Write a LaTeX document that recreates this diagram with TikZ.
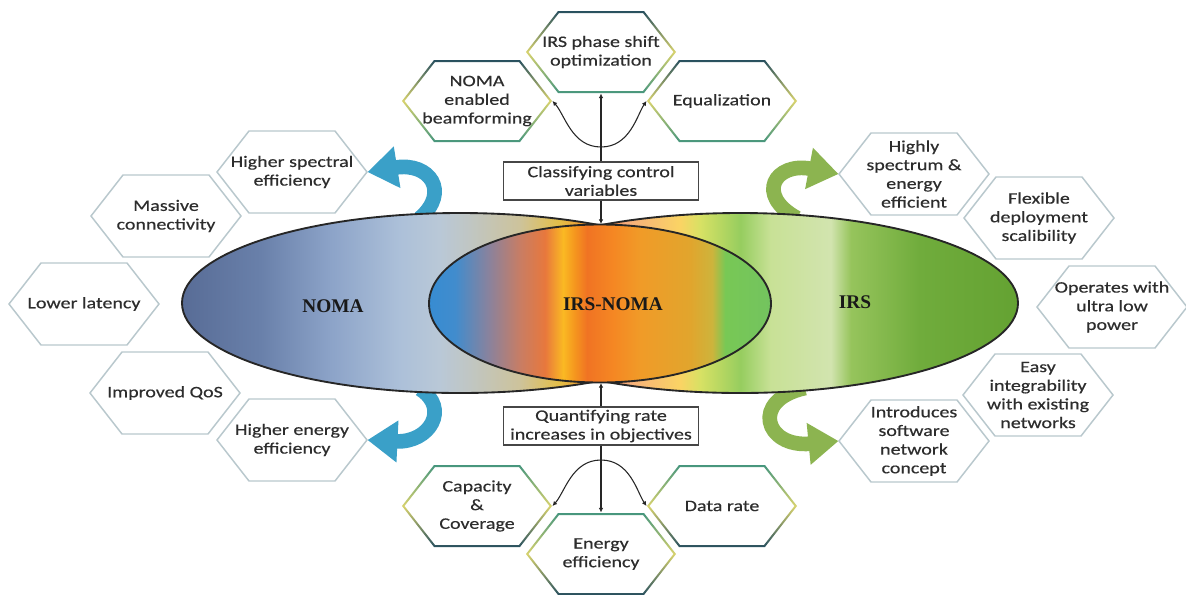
\documentclass[tikz,border=0pt]{standalone}
\usepackage{fontspec}
\setmainfont{Carlito}[FakeStretch=1.25,FakeBold=0.4]
\newfontfamily\labfont{Liberation Serif}
\usetikzlibrary{arrows.meta}

\definecolor{txtgray}{RGB}{45,45,45}
\definecolor{hexgray}{RGB}{185,200,205}
\definecolor{boxgray}{RGB}{70,70,70}
\definecolor{ringdark}{RGB}{40,80,95}
\definecolor{ringyellow}{RGB}{215,210,110}
\definecolor{ringgreen}{RGB}{70,150,125}
\definecolor{arrowblue}{RGB}{58,160,200}
\definecolor{arrowgreen}{RGB}{140,180,80}

\definecolor{o1}{RGB}{88,108,150}
\definecolor{o2}{RGB}{105,128,170}
\definecolor{o3}{RGB}{140,163,200}
\definecolor{o4}{RGB}{172,192,217}
\definecolor{o5}{RGB}{185,200,215}
\definecolor{o6}{RGB}{192,198,195}
\definecolor{o7}{RGB}{205,195,155}
\definecolor{o8}{RGB}{228,190,70}
\definecolor{o9}{RGB}{238,140,45}
\definecolor{o10}{RGB}{242,120,40}
\definecolor{o11}{RGB}{246,172,125}
\definecolor{o12}{RGB}{250,212,100}
\definecolor{o13}{RGB}{215,225,100}
\definecolor{o14}{RGB}{150,205,95}
\definecolor{o15}{RGB}{200,225,150}
\definecolor{o16}{RGB}{210,228,175}
\definecolor{o17}{RGB}{150,196,92}
\definecolor{o18}{RGB}{112,172,60}
\definecolor{o19}{RGB}{100,162,50}

\definecolor{i1}{RGB}{55,140,210}
\definecolor{i2}{RGB}{65,140,205}
\definecolor{i3}{RGB}{140,130,155}
\definecolor{i4}{RGB}{200,125,100}
\definecolor{i5}{RGB}{232,120,60}
\definecolor{i6}{RGB}{250,185,35}
\definecolor{i7}{RGB}{245,150,30}
\definecolor{i8}{RGB}{240,115,35}
\definecolor{i9}{RGB}{245,135,35}
\definecolor{i10}{RGB}{240,155,40}
\definecolor{i11}{RGB}{225,165,45}
\definecolor{i12}{RGB}{205,180,60}
\definecolor{i13}{RGB}{120,200,85}
\definecolor{i14}{RGB}{115,195,95}

\pgfdeclarehorizontalshading{outerfill}{100bp}{color(0bp)=(o1); color(25bp)=(o1); color(29.7bp)=(o2); color(33.9bp)=(o3); color(38bp)=(o4); color(40.4bp)=(o5); color(42.2bp)=(o6); color(45.2bp)=(o7); color(47.6bp)=(o8); color(49.4bp)=(o9); color(50.3bp)=(o10); color(51.5bp)=(o11); color(54.8bp)=(o12); color(56bp)=(o13); color(58.4bp)=(o14); color(60.2bp)=(o15); color(63.8bp)=(o16); color(65bp)=(o17); color(69.1bp)=(o18); color(75bp)=(o19); color(100bp)=(o19)}
\pgfdeclarehorizontalshading{innerfill}{100bp}{color(0bp)=(i1); color(25bp)=(i1); color(28.8bp)=(i2); color(33.9bp)=(i3); color(38.3bp)=(i4); color(42bp)=(i5); color(44.6bp)=(i6); color(46.3bp)=(i7); color(48.1bp)=(i8); color(51.9bp)=(i9); color(55.9bp)=(i10); color(63.2bp)=(i11); color(66.4bp)=(i12); color(68.3bp)=(i13); color(75bp)=(i14); color(100bp)=(i14)}

\newcommand\hexfont{\fontsize{12}{14}\selectfont}

\tikzset{every picture/.style={line width=0.75pt}}
\tikzset{
  hexout/.style={insert path={++(-75,0) -- ++(32,-41) -- ++(86,0) -- ++(32,41) -- ++(-32,41) -- ++(-86,0) -- cycle}},
  hexin/.style={insert path={++(-72.5,0) -- ++(30.5,-39) -- ++(84,0) -- ++(30.5,39) -- ++(-30.5,39) -- ++(-84,0) -- cycle}},
  hexnode/.style={minimum width=112.5pt, minimum height=61.5pt, inner sep=0pt, align=center, text=txtgray, font=\hexfont},
  hexline/.style={draw=hexgray, line width=1.1pt},
  ringtop/.style={top color=ringdark, bottom color=ringgreen, middle color=ringyellow},
  ringbot/.style={top color=ringgreen, bottom color=ringdark, middle color=ringyellow},
  stepbox/.style={draw=boxgray, line width=1pt, minimum width=146pt, minimum height=28.5pt, inner sep=2pt, align=center, text=txtgray, font=\hexfont},
  conn/.style={draw=black!85, line width=0.8pt, -{Latex[length=3.5pt,width=3.5pt]}},
  bigarrow/.style={line width=11pt, -{Triangle[width=30pt,length=22.5pt]}},
  biglabel/.style={font={\labfont\bfseries\fontsize{14.5}{16}\selectfont}, text=black!90}
}

\newcommand\hexa[3]{\node[hexnode] (#1) at (#2) {#3};
  \draw[hexline] (#1.center) [hexout];}
\newcommand\hexring[4]{\node[hexnode] (#1) at (#2) {#3};
  \shade[#4, even odd rule] (#1.center) [hexout] (#1.center) [hexin];}

\begin{document}
\begin{tikzpicture}[x=0.75pt,y=0.75pt,yscale=-1]
        \fill[white] (0,0) rectangle (1186,594);
        \useasboundingbox (0,0) rectangle (1186,594);

        \hexa{spectral}{292,172}{Higher spectral\\efficiency}
        \hexa{massive}{166,216}{Massive\\connectivity}
        \hexa{latency}{84,304}{Lower latency}
        \hexa{qos}{165,393}{Improved QoS}
        \hexa{energyeff}{292,440}{Higher energy\\efficiency}
        \hexa{spectrum}{914,174}{Highly\\spectrum \&\\energy\\efficient}
        \hexa{flexible}{1039,218}{Flexible\\deployment\\scalibility}
        \hexa{lowpower}{1112,307}{Operates with\\ultra low\\power}
        \hexa{integr}{1038,395}{Easy\\integrability\\with existing\\networks}
        \hexa{software}{914,441}{Introduces\\software\\network\\concept}
        \hexring{phase}{601,52}{IRS phase shift\\optimization}{ringtop}
        \hexring{beam}{477,101}{NOMA\\enabled\\beamforming}{ringtop}
        \hexring{equal}{722,101}{Equalization}{ringtop}
        \hexring{capacity}{477,506}{Capacity\\\&\\Coverage}{ringbot}
        \hexring{rate}{722,506}{Data rate}{ringbot}
        \hexring{energy}{601,554}{Energy\\efficiency}{ringbot}

        \coordinate (nomatop) at (420,218);
        \coordinate (nomabot) at (420,389);
        \coordinate (irstop) at (797,218);
        \coordinate (irsbot) at (805,388);
        \draw[bigarrow, draw=arrowblue] (nomatop) .. controls (450,192) and (430,162) .. (spectral.east);
        \draw[bigarrow, draw=arrowblue] (nomabot) .. controls (450,408) and (430,443) .. (energyeff.east);
        \draw[bigarrow, draw=arrowgreen] (irstop) .. controls (755,195) and (775,162) .. (spectrum.west);
        \draw[bigarrow, draw=arrowgreen] (irsbot) .. controls (750,400) and (765,448) .. (software.west);

        \shade[shading=outerfill] (460,303) ellipse [x radius=278, y radius=90] (740,303) ellipse [x radius=278, y radius=90];
        \draw[line width=1.4pt, draw=black!85] (460,303) ellipse [x radius=278, y radius=90] (740,303) ellipse [x radius=278, y radius=90];
        \shadedraw[shading=innerfill, line width=1.4pt, draw=black!85] (600,303.5) ellipse [x radius=171, y radius=79];

        \node[biglabel] (noma) at (333,306) {NOMA};
        \node[biglabel] (irsnoma) at (613,304) {IRS-NOMA};
        \node[biglabel] (irs) at (855,302) {IRS};

        \node[stepbox] (ctrl) at (601,181) {Classifying control\\variables};
        \node[stepbox] (quant) at (601,426) {Quantifying rate\\increases in objectives};

        \coordinate (topfork) at (601,147);
        \coordinate (topcross) at (601,224);
        \coordinate (botcross) at (601,383);
        \coordinate (botfork) at (601,460);
        \draw[conn] (ctrl.north) -- (phase.south);
        \draw[conn] (ctrl.south) -- (topcross);
        \draw[conn] (topfork) .. controls (572,147) and (565,115) .. (beam.east);
        \draw[conn] (topfork) .. controls (630,147) and (637,115) .. (equal.west);
        \draw[conn] (quant.north) -- (botcross);
        \draw[conn] (quant.south) -- (energy.north);
        \draw[conn] (botfork) .. controls (572,460) and (565,492) .. (capacity.east);
        \draw[conn] (botfork) .. controls (630,460) and (637,492) .. (rate.west);
\end{tikzpicture}
\end{document}
